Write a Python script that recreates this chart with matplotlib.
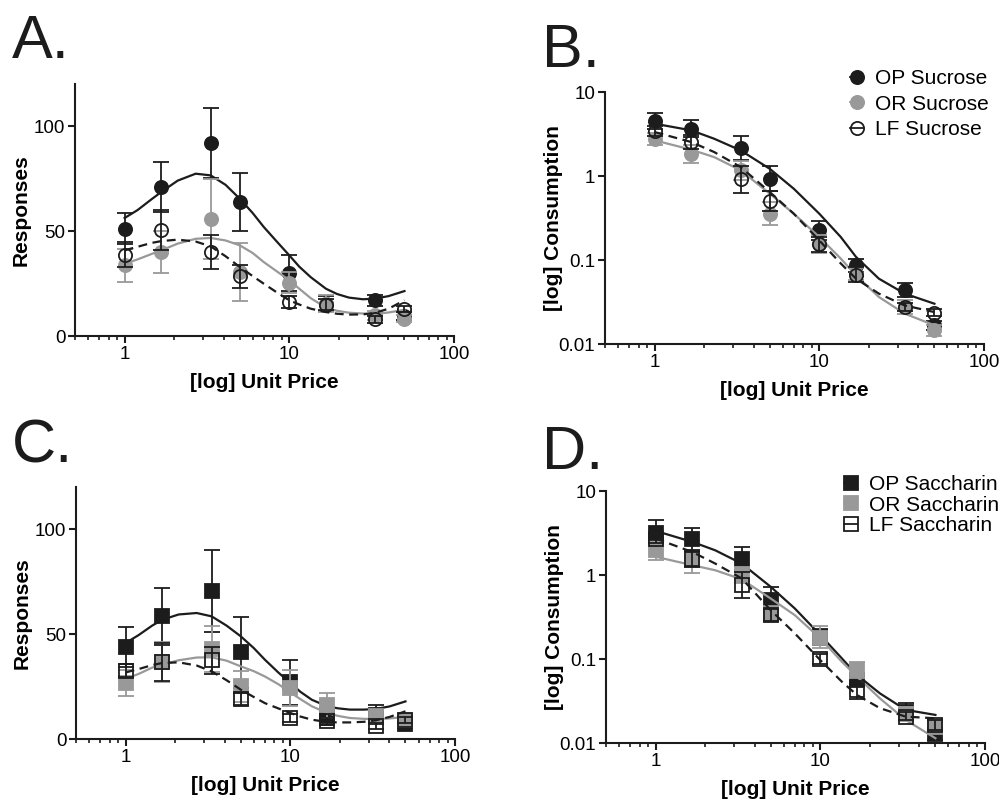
import matplotlib.pyplot as plt
from matplotlib.lines import Line2D
from matplotlib.legend_handler import HandlerTuple
from matplotlib.ticker import FixedLocator, LogLocator, NullLocator, NullFormatter

plt.rcParams['font.family'] = ['Liberation Sans', 'DejaVu Sans']

price = [1, 1.67, 3.33, 5, 10, 16.7, 33.3, 50]
resp_grid = [1, 1.2, 1.45, 1.67, 2.1, 2.7, 3.33, 4.1, 5, 6, 7, 8.5, 10, 11.5, 13.5, 16.7,
             19.5, 23, 28, 33, 40, 50]
cons_grid = [1, 1.67, 2.3, 3.33, 5, 7, 10, 13.5, 16.7, 23, 33, 50]

# A. sucrose responses
a_op = [51.1, 71, 91.9, 63.8, 30, 15.4, 17, 9.5]
a_op_err = [7.5, 12, 16.5, 14, 8.5, 3.5, 2.5, 2]
a_op_fit = [56.2, 60, 65, 68.6, 74, 77.3, 76.5, 72, 65.4, 58.5, 51.9, 44.5, 38.4, 33, 28, 22.5,
            20, 18.3, 17.5, 17.8, 19, 21.4]
a_or = [33.6, 40, 55.9, 30.5, 25.4, 15.4, 9.8, 8.3]
a_or_err = [8, 10, 19, 14, 5, 4, 2, 1.5]
a_or_fit = [34.4, 36.5, 39, 40.8, 44, 46.3, 46.7, 45.5, 43.2, 39.5, 35.2, 30.5, 26.5, 22.5, 18, 13.5,
            12, 11.1, 10.7, 10.6, 11.2, 12.5]
a_lf = [38.7, 50.6, 40, 28.4, 16.2, 15, 7.9, 12.9]
a_lf_err = [6, 9.5, 8, 5.5, 3, 2.5, 1.5, 1.5]
a_lf_fit = [40.8, 42.5, 44.3, 45.2, 45.9, 45, 42.7, 38, 32.9, 28.5, 24.9, 20.5, 17, 15, 13, 11.4,
            10.6, 10.2, 10.3, 11, 13, 17]

# B. sucrose consumption (lower / upper error)
b_op = [4.52, 3.66, 2.15, 0.93, 0.225, 0.0865, 0.0444, 0.0167]
b_op_lo = [0.87, 0.76, 0.59, 0.27, 0.05, 0.0145, 0.008, 0.002]
b_op_hi = [1.08, 0.94, 0.82, 0.38, 0.065, 0.0175, 0.0096, 0.0023]
b_op_fit = [4.2, 3.5, 2.78, 2.02, 1.22, 0.706, 0.356, 0.188, 0.109, 0.06, 0.0398, 0.0302]
b_or = [2.78, 1.84, 1.17, 0.356, 0.156, 0.0687, 0.0275, 0.0146]
b_or_lo = [0.41, 0.41, 0.27, 0.096, 0.034, 0.0107, 0.0045, 0.0021]
b_or_hi = [0.48, 0.53, 0.35, 0.13, 0.044, 0.0123, 0.0055, 0.0024]
b_or_fit = [2.66, 2.06, 1.68, 1.17, 0.617, 0.356, 0.188, 0.104, 0.0656, 0.0363, 0.023, 0.0167]
b_lf = [3.43, 2.54, 0.91, 0.504, 0.155, 0.067, 0.0275, 0.0236]
b_lf_lo = [0.45, 0.45, 0.275, 0.12, 0.03, 0.012, 0.003, 0.002]
b_lf_hi = [0.5, 0.55, 0.4, 0.16, 0.035, 0.015, 0.0035, 0.0022]
b_lf_fit = [3.34, 2.54, 1.93, 1.28, 0.646, 0.356, 0.171, 0.091, 0.06, 0.0398, 0.0288, 0.024]

# C. saccharin responses
c_op = [43.7, 58.4, 70.6, 41.3, 27.1, 10.8, 11.6, 7.3]
c_op_err = [9.5, 13.5, 19.5, 16.8, 10.7, 4, 4.5, 2]
c_op_fit = [45.7, 49.5, 54, 56.8, 59.3, 60, 58.4, 54, 48.9, 43.3, 37.8, 31.5, 26.7, 22.5, 18.7, 15.6,
            14.6, 14, 14, 14.3, 15.5, 17.9]
c_or = [26.7, 36.5, 42.9, 25.1, 24.3, 16, 10.8, 8.9]
c_or_err = [6, 9.5, 11, 7.5, 8.5, 6, 3, 2.5]
c_or_fit = [28.6, 31, 34, 35.4, 37.5, 38.8, 38.9, 37.3, 34.6, 32.3, 29.8, 26, 22.2, 19, 15.6, 12.4,
            11, 10, 9.6, 9.5, 9.8, 10.5]
c_lf = [32.5, 36.5, 37.5, 19, 10, 8.4, 6.3, 9.2]
c_lf_err = [3, 9, 6.5, 2.8, 2, 1.5, 1.5, 1.5]
c_lf_fit = [31.7, 33.3, 35.2, 36.2, 36.5, 35, 32.2, 28, 23.5, 20, 17.1, 14.5, 12.4, 10.7, 9.2, 8.1,
            7.9, 7.9, 8.2, 8.9, 10.5, 13.2]

# D. saccharin consumption (lower / upper error)
d_op = [3.17, 2.67, 1.57, 0.51, 0.184, 0.056, 0.0237, 0.0129]
d_op_lo = [0.97, 0.69, 0.41, 0.15, 0.037, 0.006, 0.005, 0.0019]
d_op_hi = [1.4, 0.93, 0.56, 0.21, 0.046, 0.006, 0.0063, 0.0021]
d_op_fit = [3.35, 2.48, 1.97, 1.37, 0.724, 0.4, 0.193, 0.102, 0.0646, 0.039, 0.0248, 0.0216]
d_or = [2.01, 1.5, 1.0, 0.35, 0.18, 0.074, 0.0222, 0.0157]
d_or_lo = [0.51, 0.45, 0.2, 0.06, 0.045, 0.014, 0.0032, 0.0022]
d_or_hi = [0.49, 0.4, 0.25, 0.07, 0.065, 0.019, 0.0048, 0.0023]
d_or_fit = [1.65, 1.31, 1.14, 0.89, 0.525, 0.333, 0.176, 0.093, 0.0617, 0.034, 0.0188, 0.0114]
d_lf = [2.72, 1.53, 0.757, 0.333, 0.099, 0.043, 0.0206, 0.0164]
d_lf_lo = [0.3, 0.3, 0.227, 0.05, 0.012, 0.01, 0.002, 0.002]
d_lf_hi = [0.4, 0.4, 0.32, 0.06, 0.015, 0.012, 0.0025, 0.0022]
d_lf_fit = [2.72, 1.88, 1.37, 0.912, 0.382, 0.202, 0.097, 0.0538, 0.0373, 0.026, 0.0206, 0.0197]

sucrose_labels = ["OP Sucrose", "OR Sucrose", "LF Sucrose"]
saccharin_labels = ["OP Saccharin", "OR Saccharin", "LF Saccharin"]

BLACK = "#1c1c1c"
GRAY = "#999999"
colors = [BLACK, GRAY, BLACK]
faces = [BLACK, GRAY, "none"]
styles = ["-", "-", (0, (4, 2.5))]


def panel(ax, grid, series, marker, logy):
    for i, (y, err, fit) in enumerate(series):
        z = 2 + i
        ax.plot(grid, fit, color=colors[i], ls=styles[i], lw=1.6, zorder=z)
        ax.errorbar(price, y, yerr=err, fmt="none", ecolor=colors[i], elinewidth=1.3,
                    capsize=6, capthick=1.3, zorder=z + 0.1)
        ax.plot(price, y, ls="none", marker=marker, ms=9.5, mfc=faces[i], mec=colors[i],
                mew=1.3, zorder=z + 0.2)
    ax.set_xscale("log")
    ax.set_xlim(0.5, 100)
    ax.xaxis.set_major_locator(FixedLocator([1, 10, 100]))
    ax.set_xticklabels(["1", "10", "100"])
    ax.xaxis.set_minor_locator(LogLocator(base=10, subs=range(2, 10)))
    ax.xaxis.set_minor_formatter(NullFormatter())
    if logy:
        ax.set_yscale("log")
        ax.set_ylim(0.01, 10)
        ax.set_yticks([0.01, 0.1, 1, 10])
        ax.set_yticklabels(["0.01", "0.1", "1", "10"])
        ax.yaxis.set_minor_locator(NullLocator())
        ax.set_ylabel("[log] Consumption", fontsize=15, fontweight="bold")
        ax.yaxis.set_label_coords(-0.11, 0.5)
    else:
        ax.set_ylim(0, 120)
        ax.set_yticks([0, 50, 100])
        ax.set_ylabel("Responses", fontsize=15, fontweight="bold")
        ax.yaxis.set_label_coords(-0.117, 0.5)
    ax.set_xlabel("[log] Unit Price", fontsize=15, fontweight="bold")
    ax.xaxis.set_label_coords(0.5, -0.145)
    for side in ["top", "right"]:
        ax.spines[side].set_visible(False)
    for side in ["left", "bottom"]:
        ax.spines[side].set_linewidth(1.5)
        ax.spines[side].set_color(BLACK)
    ax.tick_params(which="major", length=5, width=1.5, labelsize=13.5, pad=2, color=BLACK)
    ax.tick_params(which="minor", length=3, width=1.2, color=BLACK)


def legend(ax, labels, marker, anchor, spacing):
    handles = []
    for i in range(3):
        mk = Line2D([], [], ls="none", marker=marker, ms=9.5, mfc=faces[i], mec=colors[i], mew=1.3)
        ln = Line2D([], [], color=colors[i], lw=1.3)
        handles.append((mk, ln))
    ax.legend(handles, labels, handler_map={tuple: HandlerTuple(ndivide=1, pad=0)},
              loc="upper left", bbox_to_anchor=anchor, bbox_transform=ax.figure.transFigure,
              frameon=False, fontsize=15, handlelength=0.62, handletextpad=0.55,
              borderpad=0, borderaxespad=0, labelspacing=spacing)


fig = plt.figure(figsize=(9.99, 8.01), dpi=100)
ax_a = fig.add_axes([0.0751, 0.5805, 0.3794, 0.3146])
ax_b = fig.add_axes([0.6056, 0.5705, 0.3794, 0.3146])
ax_c = fig.add_axes([0.0761, 0.0774, 0.3794, 0.3146])
ax_d = fig.add_axes([0.6066, 0.0724, 0.3794, 0.3146])

panel(ax_a, resp_grid, [(a_op, a_op_err, a_op_fit), (a_or, a_or_err, a_or_fit),
                        (a_lf, a_lf_err, a_lf_fit)], "o", False)
panel(ax_b, cons_grid, [(b_op, [b_op_lo, b_op_hi], b_op_fit), (b_or, [b_or_lo, b_or_hi], b_or_fit),
                        (b_lf, [b_lf_lo, b_lf_hi], b_lf_fit)], "o", True)
panel(ax_c, resp_grid, [(c_op, c_op_err, c_op_fit), (c_or, c_or_err, c_or_fit),
                        (c_lf, c_lf_err, c_lf_fit)], "s", False)
panel(ax_d, cons_grid, [(d_op, [d_op_lo, d_op_hi], d_op_fit), (d_or, [d_or_lo, d_or_hi], d_or_fit),
                        (d_lf, [d_lf_lo, d_lf_hi], d_lf_fit)], "s", True)

legend(ax_b, sucrose_labels, "o", (0.851, 0.914), 0.32)
legend(ax_d, saccharin_labels, "s", (0.845, 0.407), 0.08)

for label, x, y in [("A.", 0.012, 0.927), ("B.", 0.543, 0.916), ("C.", 0.012, 0.423), ("D.", 0.543, 0.415)]:
    fig.text(x, y, label, fontsize=44, color=BLACK, va="baseline")

fig.savefig("out.png", dpi=100)
